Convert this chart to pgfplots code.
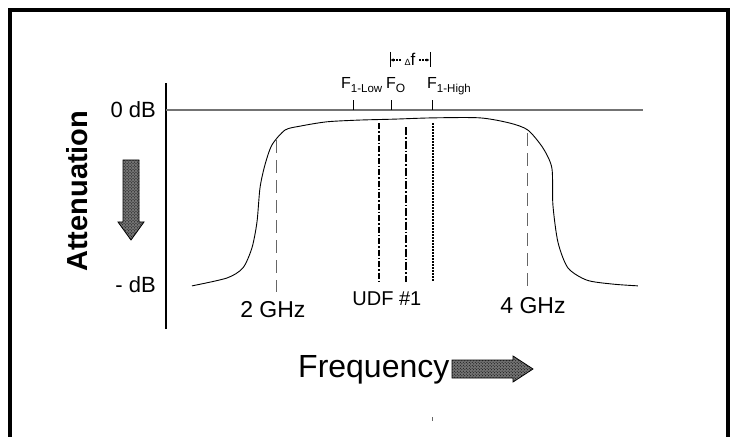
\documentclass[border=0pt]{standalone}
\usepackage{pgfplots}
\pgfplotsset{compat=1.18}
\usepackage{fontspec}
\setmainfont{Liberation Sans}
\usetikzlibrary{patterns,arrows.meta}
\newcommand\fs[1]{\fontsize{#1bp}{#1bp}\selectfont}

\begin{document}
\begin{tikzpicture}
% page frame in pixel units (y downwards)
\begin{scope}[x=1bp,y=-1bp]
  \path[use as bounding box] (0,0) rectangle (731,437);
  \draw[line width=4bp, line join=miter] (10,437) -- (10,10) -- (728,10) -- (728,437);
\end{scope}

\begin{axis}[
    scale only axis,
    width=477bp, height=246bp,
    at={(166bp,-329bp)}, anchor=south west,
    xmin=1.116, xmax=4.917,
    ymin=-50.06, ymax=6.17,
    axis x line=none,
    axis y line=left,
    y axis line style={-, line width=2bp},
    ytick={0,-40},
    yticklabels={0 dB, - dB},
    major tick length=0pt,
    yticklabel style={font=\fs{22}, inner sep=0pt, xshift=-10bp},
    clip=false,
]
% 0 dB reference line
\addplot[black!55, line width=1.6bp] coordinates {(1.116,0) (4.917,0)};

% filter response
\addplot[black, line width=0.9bp, smooth, tension=0.45] coordinates {
  (1.323,-40.2) (1.602,-38.4) (1.729,-36.1) (1.801,-31.5) (1.841,-25.6)
  (1.865,-17.8) (1.904,-12.6) (1.960,-8.0) (2.064,-4.6) (2.183,-3.7)
  (2.398,-2.7) (2.661,-2.3) (2.924,-2.1) (3.243,-1.8) (3.618,-1.8)
  (3.857,-3.0) (4.000,-4.6) (4.120,-8.7) (4.191,-13.3) (4.199,-21.7)
  (4.239,-30.2) (4.319,-36.1) (4.470,-38.9) (4.677,-39.8) (4.876,-40.2)
};

% band edge markers
\addplot[black!60, line width=1bp, dash pattern=on 13bp off 7bp] coordinates {(2.0,-6.9) (2.0,-41.6)};
\addplot[black!60, line width=1bp, dash pattern=on 13bp off 7bp] coordinates {(4.0,-5.3) (4.0,-41.1)};

% UDF lines
\addplot[black, line width=1.6bp, dash pattern=on 6bp off 2bp on 1.5bp off 2bp] coordinates {(2.813,-3.0) (2.813,-39.3)};
\addplot[black, line width=1.6bp, dash pattern=on 8bp off 2bp on 1.5bp off 2bp] coordinates {(3.028,-3.9) (3.028,-39.3)};
\addplot[black, line width=1.6bp, dash pattern=on 1.5bp off 1.5bp] coordinates {(3.243,-3.0) (3.243,-39.3)};

% frequency ticks on the 0 dB line
\addplot[black, line width=0.8bp] coordinates {(2.606,0) (2.606,2.3)};
\addplot[black, line width=0.8bp] coordinates {(2.916,0) (2.916,2.3)};
\addplot[black, line width=0.8bp] coordinates {(3.235,0) (3.235,2.3)};

\node[anchor=base, font=\fs{23}, inner sep=0pt] at (axis cs:1.968,-47.5) {2 GHz};
\node[anchor=base, font=\fs{23}, inner sep=0pt] at (axis cs:4.040,-46.6) {4 GHz};
\node[anchor=base, font=\fs{20}, inner sep=0pt] at (axis cs:2.876,-44.6) {UDF \#1};
\end{axis}

% annotations in pixel units
\begin{scope}[x=1bp,y=-1bp]
  \node[anchor=base west, inner sep=0pt] at (341,89)
    {\fs{16}F\raisebox{-4bp}{\fs{11.5}1-Low}};
  \node[anchor=base west, inner sep=0pt] at (386,89)
    {\fs{16}F\raisebox{-4bp}{\fs{12}O}};
  \node[anchor=base west, inner sep=0pt] at (427,89)
    {\fs{16}F\raisebox{-4bp}{\fs{11.5}1-High}};

  % delta f bracket
  \draw[line width=0.8bp] (390,52) -- (390,67);
  \draw[line width=0.8bp] (430,52) -- (430,67);
  \node[anchor=base, inner sep=0pt] at (410,66) {\fs{9}Δ\fs{17}f};
  \draw[line width=1.2bp, dash pattern=on 2bp off 1bp, -{Latex[length=3bp,width=3.5bp]}] (401,60) -- (390.5,60);
  \draw[line width=1.2bp, dash pattern=on 2bp off 1bp, -{Latex[length=3bp,width=3.5bp]}] (419,60) -- (429.5,60);

  % axis titles
  \node[anchor=base west, rotate=90, inner sep=0pt, font=\fs{29}\bfseries] at (87,272) {Attenuation};
  \node[anchor=base west, inner sep=0pt, font=\fs{32}] at (298,377) {Frequency};

  % block arrows
  \draw[line width=0.8bp, fill=black!55, postaction={pattern=crosshatch dots, pattern color=black}]
    (123,160) -- (139,160) -- (139,222) -- (144,222) -- (131,240) -- (118,222) -- (123,222) -- cycle;
  \draw[line width=0.8bp, fill=black!55, postaction={pattern=crosshatch dots, pattern color=black}]
    (452,360) -- (513,360) -- (513,356) -- (533,369) -- (513,382) -- (513,378) -- (452,378) -- cycle;

  \draw[black!60, line width=0.8bp] (432,417) -- (432,421);
\end{scope}
\end{tikzpicture}
\end{document}
